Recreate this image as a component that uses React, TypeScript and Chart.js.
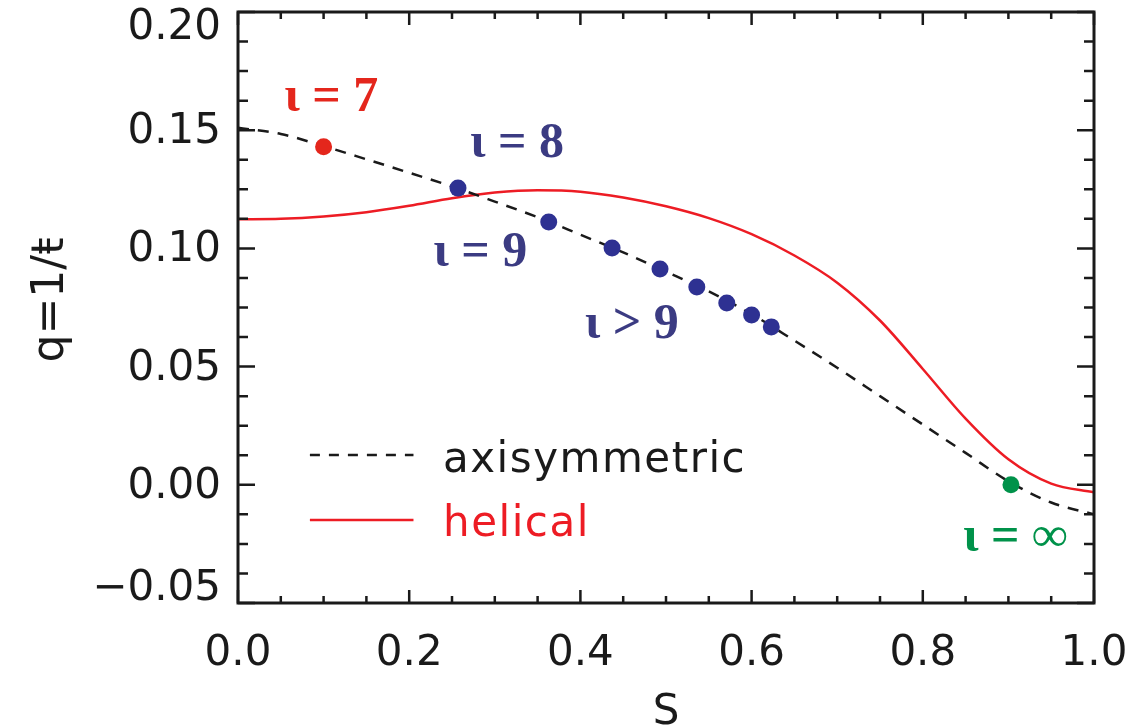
import { useEffect, useRef } from "react";
import { Chart, registerables } from "chart.js";

Chart.register(...registerables);

// ---- data ----
const sGrid = [0, 0.05, 0.1, 0.15, 0.2, 0.25, 0.3, 0.35, 0.4, 0.45, 0.5, 0.55, 0.6, 0.65, 0.7, 0.75, 0.8, 0.85, 0.9, 0.95, 1.0];
const axisymmetricQ = [0.151, 0.1484, 0.1433, 0.1377, 0.132, 0.1262, 0.1198, 0.1132, 0.1058, 0.0983, 0.0902, 0.0818, 0.0722, 0.061, 0.0495, 0.0375, 0.0255, 0.0135, 0.0015, -0.0075, -0.0125];
const helicalQ = [0.1123, 0.1125, 0.1135, 0.1153, 0.118, 0.1212, 0.1236, 0.1246, 0.124, 0.1215, 0.1178, 0.1128, 0.106, 0.097, 0.0855, 0.0695, 0.049, 0.028, 0.0108, 0.0005, -0.0032];

const redPointS = [0.1];
const redPointQ = [0.143];
const bluePointS = [0.257, 0.363, 0.437, 0.493, 0.536, 0.571, 0.6, 0.623];
const bluePointQ = [0.1255, 0.1112, 0.1002, 0.0913, 0.0837, 0.0769, 0.0718, 0.0668];
const greenPointS = [0.903];
const greenPointQ = [0.0];

const xMajorTicks = [0, 0.2, 0.4, 0.6, 0.8, 1.0];
const xTickLabels = ["0.0", "0.2", "0.4", "0.6", "0.8", "1.0"];
const yMajorTicks = [-0.05, 0, 0.05, 0.1, 0.15, 0.2];
const yTickLabels = ["\u22120.05", "0.00", "0.05", "0.10", "0.15", "0.20"];
const xMinorStep = 0.05;
const yMinorStep = 0.0125;

const annotationTexts = ["\u03b9 = 7", "\u03b9 = 8", "\u03b9 = 9", "\u03b9 > 9", "\u03b9 = \u221e"];
const annotationS = [0.109, 0.326, 0.283, 0.46, 0.908];
const annotationQ = [0.1636, 0.1442, 0.098, 0.0676, -0.0225];
const annotationColors = ["#e4261c", "#3b3b82", "#3b3b82", "#3b3b82", "#00924a"];

const legendLabels = ["axisymmetric", "helical"];

const RED_LINE = "#ed1c24";
const BLACK = "#1a1a1a";
const SANS = "'DejaVu Sans', sans-serif";
const SERIF = "'Liberation Serif', serif";

const idlPlugin = {
  id: "idlAxes",
  afterDraw(chart: any) {
    const { ctx, chartArea: a } = chart;
    const x = chart.scales.x;
    const y = chart.scales.y;
    ctx.save();
    // ticks (inward, mirrored)
    ctx.strokeStyle = BLACK;
    ctx.lineWidth = 2.5;
    ctx.beginPath();
    const nx = Math.round((x.max - x.min) / xMinorStep);
    for (let i = 0; i <= nx; i++) {
      const v = x.min + i * xMinorStep;
      const px = x.getPixelForValue(v);
      const major = xMajorTicks.some((t) => Math.abs(t - v) < 1e-6);
      const len = major ? 13 : 7;
      ctx.moveTo(px, a.bottom);
      ctx.lineTo(px, a.bottom - len);
      ctx.moveTo(px, a.top);
      ctx.lineTo(px, a.top + len);
    }
    const ny = Math.round((y.max - y.min) / yMinorStep);
    for (let i = 0; i <= ny; i++) {
      const v = y.min + i * yMinorStep;
      const py = y.getPixelForValue(v);
      const major = yMajorTicks.some((t) => Math.abs(t - v) < 1e-6);
      const len = major ? 17 : 10;
      ctx.moveTo(a.left, py);
      ctx.lineTo(a.left + len, py);
      ctx.moveTo(a.right, py);
      ctx.lineTo(a.right - len, py);
    }
    ctx.stroke();
    // frame
    ctx.lineWidth = 3;
    ctx.strokeRect(a.left, a.top, a.right - a.left, a.bottom - a.top);

    // tick labels
    ctx.fillStyle = BLACK;
    ctx.font = `42px ${SANS}`;
    ctx.textAlign = "center";
    ctx.textBaseline = "middle";
    xMajorTicks.forEach((t, i) => {
      ctx.fillText(xTickLabels[i], x.getPixelForValue(t), 654);
    });
    ctx.textAlign = "right";
    yMajorTicks.forEach((t, i) => {
      let py = y.getPixelForValue(t) + 2;
      py = Math.max(a.top + 16, Math.min(a.bottom - 14, py));
      ctx.fillText(yTickLabels[i], a.left - 17, py);
    });

    // axis titles
    ctx.textAlign = "center";
    ctx.textBaseline = "alphabetic";
    ctx.fillText("S", (a.left + a.right) / 2, 724);
    ctx.save();
    ctx.translate(63, 300);
    ctx.rotate(-Math.PI / 2);
    ctx.font = `44px ${SANS}`;
    ctx.fillText("q=1/\u0167", 0, 0);
    ctx.restore();

    // annotations
    ctx.font = `bold 50px ${SERIF}`;
    ctx.textAlign = "center";
    ctx.textBaseline = "middle";
    annotationTexts.forEach((t, i) => {
      ctx.fillStyle = annotationColors[i];
      ctx.fillText(t, x.getPixelForValue(annotationS[i]), y.getPixelForValue(annotationQ[i]));
    });

    // legend
    const lx0 = x.getPixelForValue(0.084);
    const lx1 = x.getPixelForValue(0.205);
    const tx = x.getPixelForValue(0.2395);
    const ly0 = y.getPixelForValue(0.0126);
    const ly1 = y.getPixelForValue(-0.0149);
    ctx.lineWidth = 2.5;
    ctx.strokeStyle = BLACK;
    ctx.setLineDash([10, 9]);
    ctx.beginPath();
    ctx.moveTo(lx0, ly0);
    ctx.lineTo(lx1, ly0);
    ctx.stroke();
    ctx.setLineDash([]);
    ctx.strokeStyle = RED_LINE;
    ctx.beginPath();
    ctx.moveTo(lx0, ly1);
    ctx.lineTo(lx1, ly1);
    ctx.stroke();
    ctx.font = `42px ${SANS}`;
    (ctx as any).letterSpacing = "1.5px";
    ctx.textAlign = "left";
    ctx.textBaseline = "alphabetic";
    ctx.fillStyle = BLACK;
    ctx.fillText(legendLabels[0], tx, ly0 + 17);
    ctx.fillStyle = RED_LINE;
    ctx.fillText(legendLabels[1], tx, ly1 + 16);
    ctx.restore();
  },
};

export default function App() {
  const ref = useRef<HTMLCanvasElement | null>(null);
  useEffect(() => {
    document.body.style.margin = "0";
    document.body.style.overflow = "hidden";
    const canvas = ref.current;
    if (!canvas) return;
    const toXY = (xs: number[], ys: number[]) => xs.map((v, i) => ({ x: v, y: ys[i] }));
    const chart = new Chart(canvas, {
      type: "line",
      data: {
        datasets: [
          {
            label: "red point",
            data: toXY(redPointS, redPointQ),
            showLine: false,
            pointRadius: 8.5,
            pointBackgroundColor: "#e4261c",
            pointBorderWidth: 0,
            order: 0,
          },
          {
            label: "blue points",
            data: toXY(bluePointS, bluePointQ),
            showLine: false,
            pointRadius: 8.5,
            pointBackgroundColor: "#2e3192",
            pointBorderWidth: 0,
            order: 0,
          },
          {
            label: "green point",
            data: toXY(greenPointS, greenPointQ),
            showLine: false,
            pointRadius: 8.5,
            pointBackgroundColor: "#00924a",
            pointBorderWidth: 0,
            order: 0,
          },
          {
            label: legendLabels[0],
            data: toXY(sGrid, axisymmetricQ),
            borderColor: BLACK,
            borderWidth: 2.5,
            borderDash: [11, 9],
            pointRadius: 0,
            cubicInterpolationMode: "monotone",
            fill: false,
            order: 1,
          },
          {
            label: legendLabels[1],
            data: toXY(sGrid, helicalQ),
            borderColor: RED_LINE,
            borderWidth: 2.5,
            pointRadius: 0,
            cubicInterpolationMode: "monotone",
            fill: false,
            order: 1,
          },
        ],
      },
      options: {
        responsive: false,
        animation: false,
        events: [],
        layout: { padding: { left: 238, right: 43, top: 12, bottom: 124 } },
        scales: {
          x: { type: "linear", min: 0, max: 1.0, display: false },
          y: { type: "linear", min: -0.05, max: 0.2, display: false },
        },
        plugins: { legend: { display: false }, tooltip: { enabled: false } },
      },
      plugins: [idlPlugin],
    });
    return () => chart.destroy();
  }, []);
  return <canvas ref={ref} width={1137} height={727} style={{ display: "block" }} />;
}
